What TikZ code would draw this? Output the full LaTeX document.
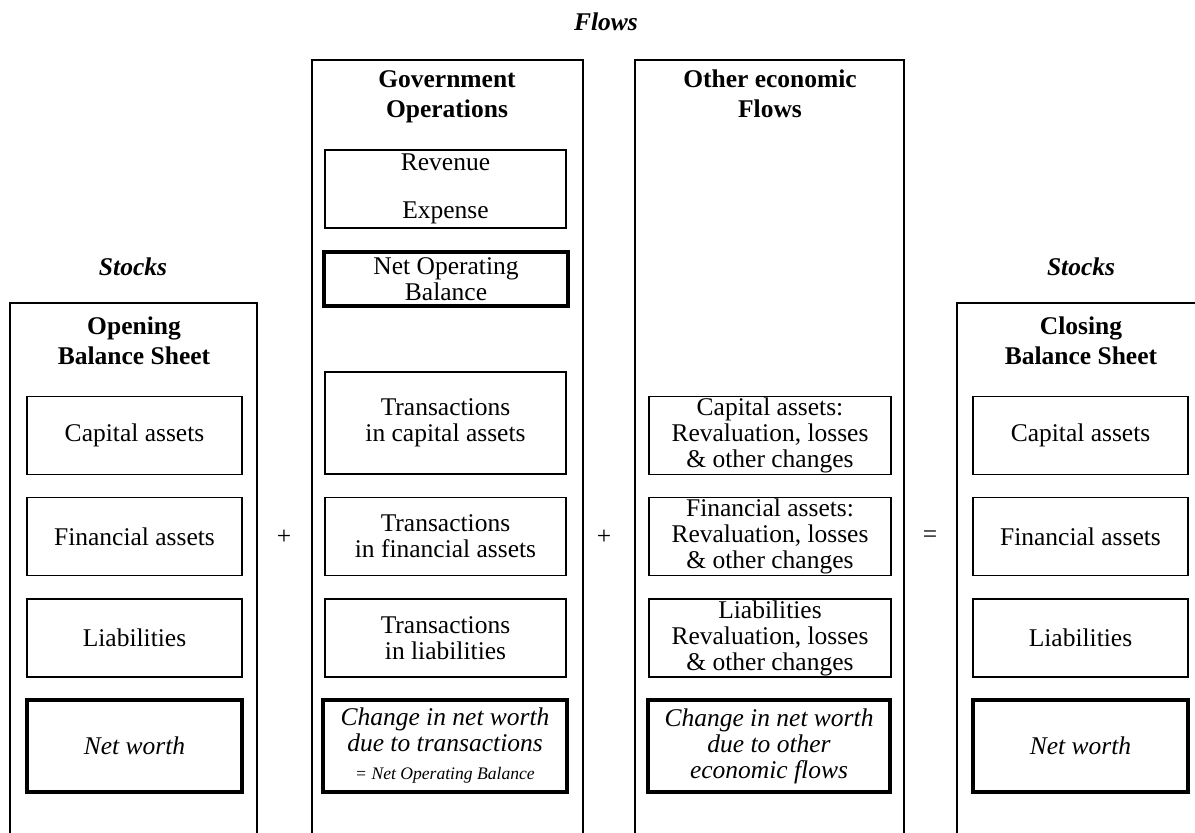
\documentclass[tikz,border=0pt]{standalone}
\usepackage{fontspec}
\setmainfont{Liberation Serif}
\newcommand\txtsz{\fontsize{12.75}{13}\selectfont}
\newcommand\headsz{\fontsize{12.75}{15}\selectfont\bfseries}
\newcommand\notesz{\fontsize{8.8}{10}\selectfont}
\begin{document}
\begin{tikzpicture}[x=0.5pt,y=-0.5pt,
  frame/.style={draw,line width=1pt},
  inbox/.style={draw,line width=0.75pt,rectangle,inner sep=0pt,align=center,
    font=\txtsz,minimum height=39pt},
  keybox/.style={inbox,line width=2pt},
  stockcol/.style={minimum width=107.5pt},
  govcol/.style={minimum width=120.5pt},
  othercol/.style={minimum width=121pt},
  head/.style={align=center,font=\headsz,inner sep=0pt},
  tag/.style={font=\fontsize{12.75}{15}\selectfont\bfseries\itshape,inner sep=0pt},
  op/.style={font=\txtsz,inner sep=0pt}]
\useasboundingbox (0,0) rectangle (1195,833);

% column frames, open at the bottom
\draw[frame] (10,850) -- (10,303) -- (257,303) -- (257,850);
\draw[frame] (312,850) -- (312,60) -- (583,60) -- (583,850);
\draw[frame] (635,850) -- (635,60) -- (904,60) -- (904,850);
\draw[frame] (957,850) -- (957,303) -- (1210,303);

% group labels
\node[tag] (flows) at (606,22) {Flows};
\node[tag] (stocksL) at (133,267) {Stocks};
\node[tag] (stocksR) at (1081,267) {Stocks};

% column headings
\node[head] (hOpen) at (134,341) {Opening\\Balance Sheet};
\node[head] (hGov) at (447,97) {Government\\Operations};
\node[head] (hOther) at (770,94) {Other economic\\Flows};
\node[head] (hClose) at (1081,341) {Closing\\Balance Sheet};

% opening balance sheet
\node[inbox,stockcol] (oCap) at (134.5,435.5) {Capital assets};
\node[inbox,stockcol] (oFin) at (134.5,536.5) {Financial assets};
\node[inbox,stockcol] (oLia) at (134.5,638) {Liabilities};
\node[keybox,stockcol,minimum height=46pt] (oNet) at (134.5,746) {\itshape Net worth};

% government operations
\node[inbox,govcol] (gRev) at (445.5,189) {Revenue\\[11pt]Expense};
\node[keybox,minimum width=122pt,minimum height=27pt] (gNob) at (446,279) {Net Operating\\Balance};
\node[inbox,govcol,minimum height=51pt] (gCap) at (445.5,423) {Transactions\\in capital assets};
\node[inbox,govcol] (gFin) at (445.5,536.5) {Transactions\\in financial assets};
\node[inbox,govcol] (gLia) at (445.5,638) {Transactions\\in liabilities};
\node[keybox,minimum width=122pt,minimum height=46pt] (gNet) at (445,746)
  {\itshape Change in net worth\\\itshape due to transactions\\[1pt]\notesz\itshape = Net Operating Balance};

% other economic flows
\node[inbox,othercol] (xCap) at (770,435.5) {Capital assets:\\Revaluation, losses\\\& other changes};
\node[inbox,othercol] (xFin) at (770,536.5) {Financial assets:\\Revaluation, losses\\\& other changes};
\node[inbox,othercol] (xLia) at (770,638) {Liabilities\\Revaluation, losses\\\& other changes};
\node[keybox,othercol,minimum height=46pt] (xNet) at (769,746)
  {\itshape Change in net worth\\\itshape due to other\\\itshape economic flows};

% closing balance sheet
\node[inbox,stockcol] (cCap) at (1080.5,435.5) {Capital assets};
\node[inbox,stockcol] (cFin) at (1080.5,536.5) {Financial assets};
\node[inbox,stockcol] (cLia) at (1080.5,638) {Liabilities};
\node[keybox,stockcol,minimum height=46pt] (cNet) at (1080.5,746) {\itshape Net worth};

% operators between the columns
\node[op] (plusA) at (284,537) {+};
\node[op] (plusB) at (604,537) {+};
\node[op] (equals) at (930,537) {=};
\end{tikzpicture}
\end{document}
